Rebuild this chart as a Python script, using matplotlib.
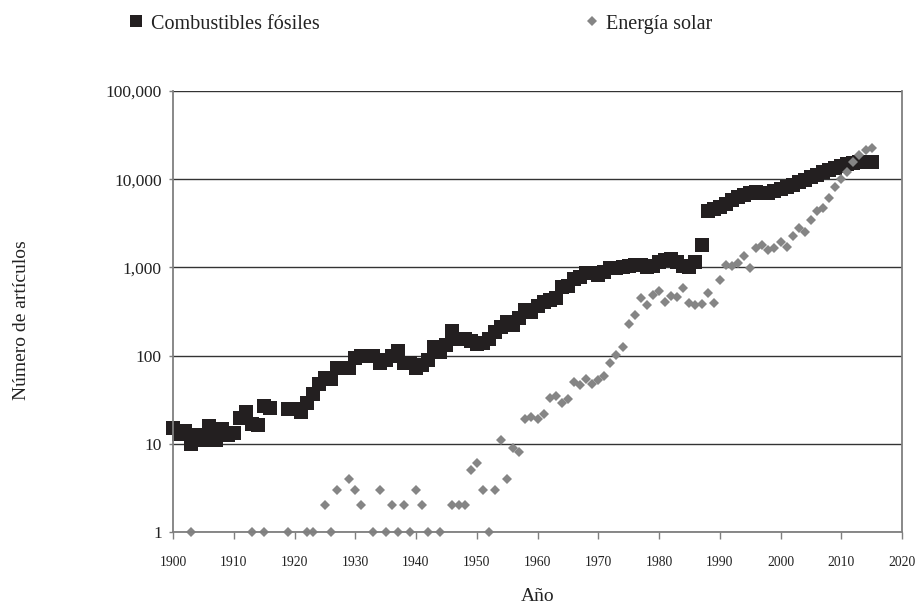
import matplotlib
matplotlib.use("Agg")
import matplotlib.pyplot as plt
from matplotlib.lines import Line2D

plt.rcParams['font.family'] = ['Liberation Serif', 'DejaVu Serif']

# ---- data ----
fossil_years = [1900, 1901, 1902, 1903, 1904, 1905, 1906, 1907, 1908, 1909,
                1910, 1911, 1912, 1913, 1914, 1915, 1916, 1919, 1920, 1921,
                1922, 1923, 1924, 1925, 1926, 1927, 1928, 1929, 1930, 1931,
                1932, 1933, 1934, 1935, 1936, 1937, 1938, 1939, 1940, 1941,
                1942, 1943, 1944, 1945, 1946, 1947, 1948, 1949, 1950, 1951,
                1952, 1953, 1954, 1955, 1956, 1957, 1958, 1959, 1960, 1961,
                1962, 1963, 1964, 1965, 1966, 1967, 1968, 1969, 1970, 1971,
                1972, 1973, 1974, 1975, 1976, 1977, 1978, 1979, 1980, 1981,
                1982, 1983, 1984, 1985, 1986, 1987, 1988, 1989, 1990, 1991,
                1992, 1993, 1994, 1995, 1996, 1997, 1998, 1999, 2000, 2001,
                2002, 2003, 2004, 2005, 2006, 2007, 2008, 2009, 2010, 2011,
                2012, 2013, 2014, 2015]
fossil_values = [15, 13, 14, 10, 12.6, 11, 16, 11, 14.7, 12.6,
                 13.4, 19.5, 23, 16.7, 16.3, 27, 25.5, 25, 25, 23,
                 29, 37, 48, 56, 55, 73, 73, 73, 93, 99,
                 99, 99, 83, 89, 99, 112, 82, 83, 72, 78,
                 88, 125, 110, 131, 190, 156, 156, 145, 135, 138,
                 156, 186, 212, 241, 222, 265, 326, 313, 366, 408,
                 425, 445, 592, 613, 733, 785, 857, 870, 820, 890,
                 975, 975, 1010, 1030, 1060, 1060, 1000, 1050, 1150, 1200,
                 1250, 1150, 1050, 1000, 1150, 1800, 4400, 4600, 4900, 5300,
                 5800, 6300, 6700, 7000, 7100, 7000, 6900, 7300, 7700, 8200,
                 8600, 9200, 9900, 10600, 11300, 12000, 12700, 13300, 14000, 14800,
                 15300, 15500, 15700, 15800]

solar_years = [1903, 1913, 1915, 1919, 1922, 1923, 1925, 1926, 1927, 1929,
               1930, 1931, 1933, 1934, 1935, 1936, 1937, 1938, 1939, 1940,
               1941, 1942, 1944, 1946, 1947, 1948, 1949, 1950, 1951, 1952,
               1953, 1954, 1955, 1956, 1957, 1958, 1959, 1960, 1961, 1962,
               1963, 1964, 1965, 1966, 1967, 1968, 1969, 1970, 1971, 1972,
               1973, 1974, 1975, 1976, 1977, 1978, 1979, 1980, 1981, 1982,
               1983, 1984, 1985, 1986, 1987, 1988, 1989, 1990, 1991, 1992,
               1993, 1994, 1995, 1996, 1997, 1998, 1999, 2000, 2001, 2002,
               2003, 2004, 2005, 2006, 2007, 2008, 2009, 2010, 2011, 2012,
               2013, 2014, 2015]
solar_values = [1, 1, 1, 1, 1, 1, 2, 1, 3, 4,
                3, 2, 1, 3, 1, 2, 1, 2, 1, 3,
                2, 1, 1, 2, 2, 2, 5, 6, 3, 1,
                3, 11, 4, 9, 8, 19, 20, 19, 22, 33,
                35, 29, 32, 50, 47, 55, 48, 53, 58, 82,
                101, 124, 231, 288, 448, 373, 487, 540, 410, 473,
                465, 581, 390, 373, 385, 510, 390, 719, 1060, 1030,
                1110, 1350, 980, 1650, 1790, 1580, 1650, 1960, 1720, 2270,
                2780, 2540, 3470, 4380, 4660, 6090, 8120, 9980, 12200, 15800,
                18700, 21400, 22300]

series_labels = ["Combustibles fósiles", "Energía solar"]
x_ticks = list(range(1900, 2021, 10))
y_ticks = [1, 10, 100, 1000, 10000, 100000]
y_tick_labels = ["1", "10", "100", "1,000", "10,000", "100,000"]
x_label = "Año"
y_label = "Número de artículos"

# ---- styles ----
fossil_color = "#231f20"
solar_color = "#858585"
grid_color = "#333333"
axis_color = "#7f7f7f"

W, H = 917, 606
fig = plt.figure(figsize=(W / 100, H / 100), dpi=100)
ax = fig.add_axes([173 / W, 1 - 532 / H, (902 - 173) / W, (532 - 91) / H])

ax.set_yscale("log")
ax.set_xlim(1900, 2020)
ax.set_ylim(1, 100000)

ax.set_yticks(y_ticks)
ax.set_yticklabels(y_tick_labels)
ax.yaxis.set_minor_locator(matplotlib.ticker.NullLocator())
ax.set_xticks(x_ticks)
ax.set_xticklabels([str(t) for t in x_ticks])

ax.yaxis.grid(True, color=grid_color, linewidth=1.0)
ax.set_axisbelow(True)

for side in ["left", "bottom", "right"]:
    ax.spines[side].set_color(axis_color)
    ax.spines[side].set_linewidth(1.3)
ax.spines["top"].set_visible(False)

ax.tick_params(axis="x", direction="out", length=5, width=1.0, color=axis_color,
               labelsize=9.8, pad=12, labelcolor="#222222")
ax.tick_params(axis="y", direction="out", length=3, width=1.0, color=axis_color,
               labelsize=12.5, pad=5, labelcolor="#222222")

ax.plot(fossil_years, fossil_values, linestyle="none", marker="s",
        markersize=9.5, color=fossil_color, markeredgewidth=0, clip_on=False,
        label=series_labels[0])
ax.plot(solar_years, solar_values, linestyle="none", marker="D",
        markersize=5.5, color=solar_color, markeredgewidth=0, clip_on=False,
        label=series_labels[1])

ax.set_xlabel(x_label, fontsize=14, color="#222222")
ax.xaxis.set_label_coords(0.5, -(588 - 532) / (532 - 91))
ax.set_ylabel(y_label, fontsize=14, color="#222222")
ax.yaxis.set_label_coords(-(173 - 30) / (902 - 173), (532 - 320) / (532 - 91))

# legend at top, two separate entries
h1 = Line2D([], [], linestyle="none", marker="s", markersize=8.2,
            color=fossil_color, markeredgewidth=0)
h2 = Line2D([], [], linestyle="none", marker="D", markersize=5.6,
            color=solar_color, markeredgewidth=0)
leg_kw = dict(frameon=False, fontsize=14.5, handlelength=1.0, borderpad=0,
              borderaxespad=0, labelcolor="#222222")
fig.legend(handles=[h1], labels=[series_labels[0]], loc="center left",
           bbox_to_anchor=(125.5 / W, 1 - 24 / H), handletextpad=0.28, **leg_kw)
fig.legend(handles=[h2], labels=[series_labels[1]], loc="center left",
           bbox_to_anchor=(581.5 / W, 1 - 24 / H), handletextpad=0.2, **leg_kw)

fig.savefig("out.png", dpi=100)
